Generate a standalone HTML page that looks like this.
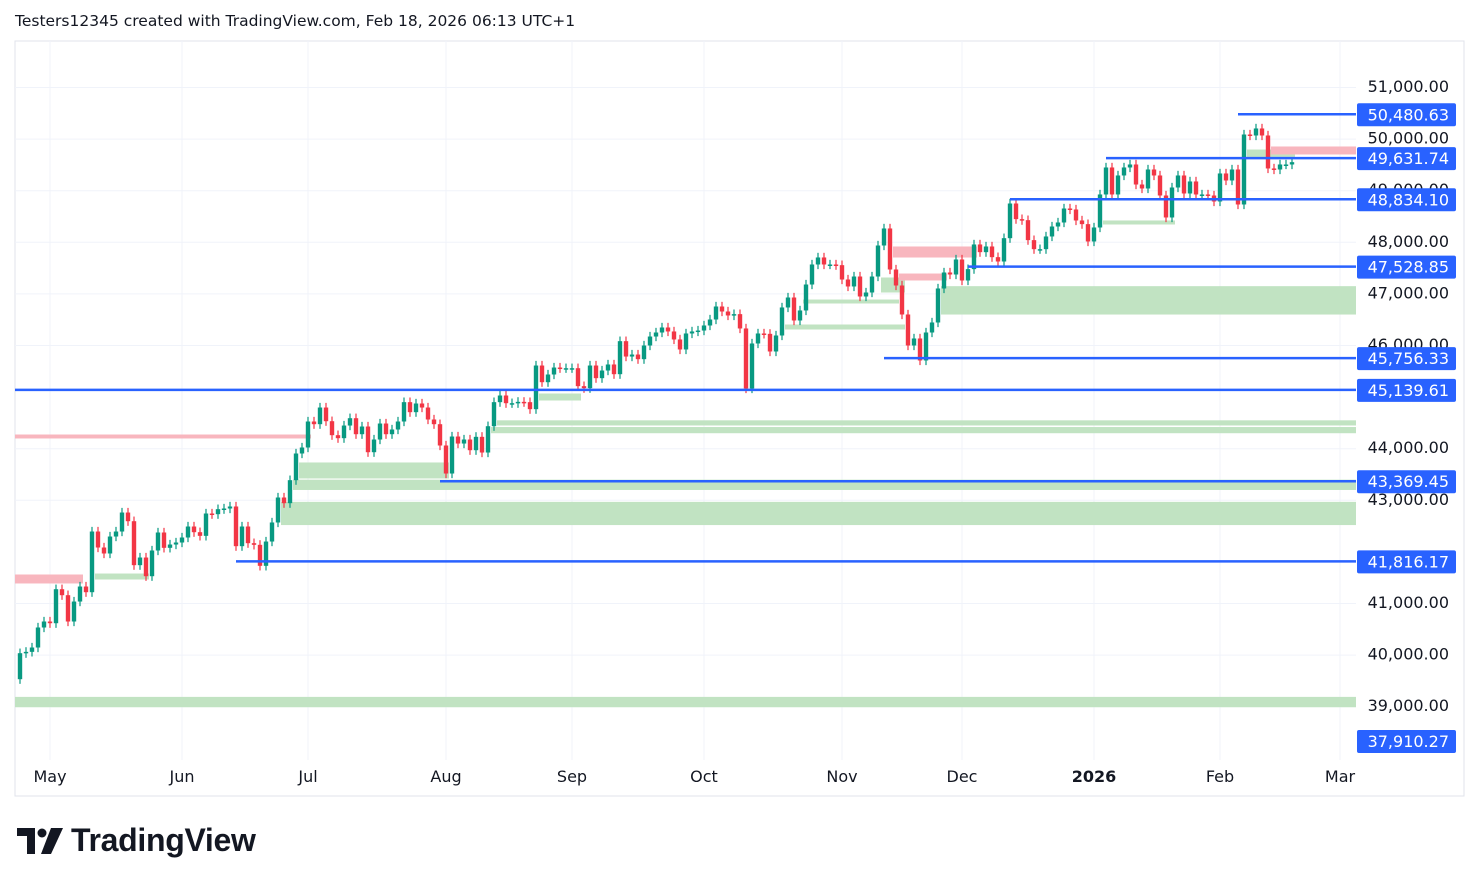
<!DOCTYPE html>
<html><head><meta charset="utf-8"><style>
body{margin:0;background:#fff;width:1479px;height:886px;overflow:hidden;font-family:"DejaVu Sans","Liberation Sans",sans-serif}
#hdr{position:absolute;left:15px;top:12px;font-size:15.5px;color:#131722}
#logo{position:absolute;left:17px;top:822px;font-family:"Liberation Sans",sans-serif;font-weight:bold;font-size:32px;color:#131722;letter-spacing:-0.3px}
</style></head><body>
<div id="hdr">Testers12345 created with TradingView.com, Feb 18, 2026 06:13 UTC+1</div>
<svg id="chart" width="1479" height="886" style="position:absolute;left:0;top:0"></svg>
<div id="logo"><span style="display:inline-block;width:54px">
<svg width="48" height="26" viewBox="0 0 48 26" style="vertical-align:-3px"><path d="M0 0h18v26h-8V8H0z" fill="#131722"/><circle cx="25" cy="5" r="4.5" fill="#131722"/><path d="M34 0h12l-12 26h-10z" fill="#131722"/></svg></span>TradingView</div>
<script>
const closes=[40037,40063,40147,40535,40651,40618,41277,41161,40651,41038,41329,41219,42395,42085,41969,42298,42395,42763,42595,41743,41891,41529,42027,42376,42079,42143,42182,42279,42492,42382,42311,42744,42731,42828,42841,42880,42111,42492,42169,42137,41730,42201,42570,43054,42944,43390,43907,44023,44527,44475,44798,44533,44262,44204,44449,44591,44281,44430,43932,44178,44488,44281,44372,44527,44902,44708,44876,44798,44566,44475,44062,43519,44236,44100,44178,43971,44230,43926,44436,44902,45031,44882,44882,44908,44902,44766,45612,45289,45438,45573,45560,45560,45560,45212,45173,45612,45367,45515,45632,45444,46084,45786,45825,45735,46000,46174,46252,46349,46272,46117,45923,46233,46272,46290,46388,46504,46756,46659,46582,46608,46330,45167,46039,46233,46226,45884,46194,46737,46930,46485,46679,47182,47570,47706,47570,47570,47557,47279,47144,47337,46950,47027,47337,47938,48268,47473,47163,46601,46000,46136,45710,46252,46446,47105,47415,47376,47667,47260,47480,47958,47809,47919,47712,47628,48080,48752,48449,48429,48042,47867,47867,48113,48306,48384,48655,48636,48423,48352,48016,48287,48927,49450,48927,49295,49450,49508,49120,49043,49411,49295,48907,48481,49062,49295,48946,49179,48927,48927,48907,48791,49334,49198,49411,48733,50089,50070,50206,50070,49431,49411,49508,49508,49553];
const firstOpen=39533;
const yTicks=[51000,50000,49000,48000,47000,46000,44000,43000,41000,40000,39000];
const monthLabels=["May","Jun","Jul","Aug","Sep","Oct","Nov","Dec","2026","Feb","Mar"];
const monthBars=[5,27,48,71,92,114,137,157,179,200,220];
const levels=[50480.63,49631.74,48834.10,47528.85,45756.33,45139.61,43369.45,41816.17];
const levelStart=[204,182,166,159,145,-1,71,37];
const lastPriceLabel=37910.27;
// [startBar, endBar (-1 = right edge), lowPrice, highPrice]
const zonesGreen=[[-1,-1,38990,39190],[13,21,41465,41581],[44,-1,42520,42970],[46,-1,43200,43400],[47,71,43423,43733],[79,-1,44300,44420],[80,-1,44450,44550],[154,-1,46600,47150],[87,93,44934,45070],[131,146,46814,46891],[128,147,46310,46407],[144,147,47027,47318],[181,192,48345,48423],[205,212,49624,49798]];
const zonesPink=[[-1,10,41388,41562],[-1,48,44198,44275],[209,-1,49702,49857],[146,159,47705,47919],[147,154,47260,47395]];
const X0=1356,YT=87.5,K=0.0516;
const y=p=>YT+(51000-p)*K;
const x=i=>20+6*i;
const svg=document.getElementById('chart');
const NS='http://www.w3.org/2000/svg';
function mk(t,a){const e=document.createElementNS(NS,t);for(const k in a)e.setAttribute(k,a[k]);svg.appendChild(e);return e;}
let e=mk('rect',{x:15,y:41,width:1449,height:755,fill:'none',stroke:'#e0e3eb'});


yTicks.forEach(p=>{const g=mk('line',{x1:15,x2:X0,y1:y(p),y2:y(p),stroke:'#f0f3fa'});

});
monthBars.forEach((b,i)=>{const g=mk('line',{x1:x(b),x2:x(b),y1:41,y2:760,stroke:'#f0f3fa'});


const t=mk('text',{x:x(b),y:782,'text-anchor':'middle','font-size':16,fill:'#131722','font-weight':monthLabels[i]==='2026'?'bold':'normal'});
t.textContent=monthLabels[i];

});
function zone(z,col){const x1=z[0]<0?15:x(z[0])-3;const x2=z[1]<0?X0:x(z[1])+3;return mk('rect',{x:x1,y:y(z[3]),width:x2-x1,height:Math.max(3,y(z[2])-y(z[3])),fill:col});}
zonesGreen.forEach(z=>{const r=zone(z,'#c1e3c2');

});
zonesPink.forEach(z=>{const r=zone(z,'#f8b6be');

});
closes.forEach((c,i)=>{const o=i?closes[i-1]:firstOpen;const up=c>=o;const col=up?'#089981':'#f23645';
const hi=Math.max(o,c)+90,lo=Math.min(o,c)-90;
const w=mk('line',{x1:x(i),x2:x(i),y1:y(hi),y2:y(lo),stroke:col,'stroke-width':1.2});


const b=mk('rect',{x:x(i)-2.2,y:y(Math.max(o,c)),width:4.4,height:Math.max(1.5,Math.abs(y(o)-y(c))),fill:col});

});
yTicks.forEach(p=>{const t=mk('text',{x:1449,y:y(p)+4.5,'text-anchor':'end','font-size':16,fill:'#131722'});
t.textContent=p.toLocaleString('en-US',{minimumFractionDigits:2});

});
function label(p,yy){const r=mk('rect',{x:1357,y:yy-11,width:99,height:23,rx:2,fill:'#2962ff'});


const t=mk('text',{x:1449,y:yy+6,'text-anchor':'end','font-size':16,fill:'#fff'});
t.textContent=p.toLocaleString('en-US',{minimumFractionDigits:2});

}
levels.forEach((p,i)=>{const x1=levelStart[i]<0?15:x(levelStart[i])-6;
const l=mk('line',{x1:x1,x2:X0,y1:y(p),y2:y(p),stroke:'#2962ff','stroke-width':2.5});


label(p,y(p));});
label(lastPriceLabel,741);
</script>
</body></html>
